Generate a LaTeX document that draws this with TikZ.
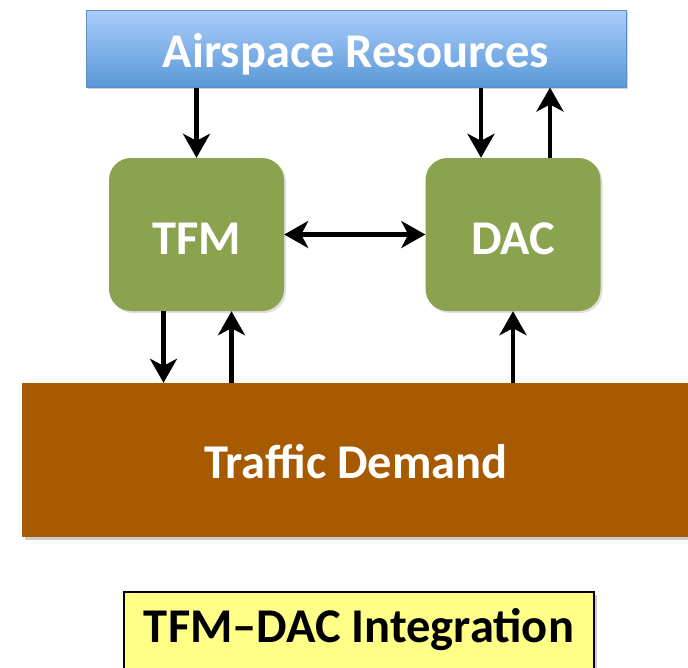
\documentclass[tikz,border=0pt]{standalone}
\usepackage{fontspec}
\setmainfont{Carlito}
\usetikzlibrary{arrows.meta,shadows}
\definecolor{airtop}{HTML}{AACDFA}
\definecolor{airbot}{HTML}{5A98D8}
\definecolor{airline}{HTML}{5B8FCC}
\definecolor{boxgreen}{HTML}{8BA24E}
\definecolor{demandbrown}{HTML}{A85A00}
\definecolor{noteyellow}{HTML}{FFFF88}
\begin{document}
\begin{tikzpicture}
		[x=1pt,y=-1pt,
		bigfont/.style={font=\fontsize{48.5}{52}\selectfont\bfseries,text height=38pt,text depth=0pt},
		airbox/.style={rectangle,draw=airline,line width=1pt,top color=airtop,bottom color=airbot,text=white,bigfont,minimum width=540pt,minimum height=77pt,drop shadow={opacity=0.35,shadow xshift=2pt,shadow yshift=-2pt}},
		mynode/.style={rectangle,rounded corners=22pt,fill=boxgreen,text=white,bigfont,text height=39pt,minimum width=175pt,minimum height=153pt,drop shadow={opacity=0.25,shadow xshift=2pt,shadow yshift=-2pt}},
		demandbox/.style={rectangle,fill=demandbrown,text=white,bigfont,text height=37pt,minimum width=668pt,minimum height=154pt,drop shadow={opacity=0.4,shadow xshift=3pt,shadow yshift=-3pt}},
		notebox/.style={rectangle,draw=black,line width=1.2pt,fill=noteyellow,text=black,bigfont,text height=31pt,text depth=8pt,minimum width=470pt,minimum height=78pt,drop shadow={opacity=0.4,shadow xshift=3pt,shadow yshift=-3pt}},
		arr/.style={line width=4.5pt,-{Stealth[length=24pt,width=27pt,inset=7pt]}},
		dblarr/.style={line width=4.5pt,{Stealth[length=24pt,width=27pt,inset=7pt]}-{Stealth[length=24pt,width=27pt,inset=7pt]}}]
		\useasboundingbox (0,0) rectangle (688,667);
		% boxes
		\node[airbox,name=air] at (356,48.5) {Airspace Resources};
		\node[mynode,name=tfm] at (196.5,234.5) {TFM};
		\node[mynode,name=dac] at (513,234.5) {DAC};
		\node[demandbox,name=traffic] at (356,460) {Traffic Demand};
		\node[notebox,name=integ] at (359,631) {TFM--DAC Integration};
		% connectors
		\draw[arr] (air.south -| tfm) -- (tfm.north);
		\draw[arr] ([xshift=-32pt]dac.north |- air.south) -- ([xshift=-32pt]dac.north);
		\draw[arr] ([xshift=37pt]dac.north) -- ([xshift=37pt]dac.north |- air.south);
		\draw[dblarr] (tfm.east) -- (dac.west);
		\draw[arr] ([xshift=-33pt]tfm.south) -- ([xshift=-33pt]tfm.south |- traffic.north);
		\draw[arr] ([xshift=35pt]tfm.south |- traffic.north) -- ([xshift=35pt]tfm.south);
		\draw[arr] (traffic.north -| dac) -- (dac.south);
	\end{tikzpicture}
\end{document}
